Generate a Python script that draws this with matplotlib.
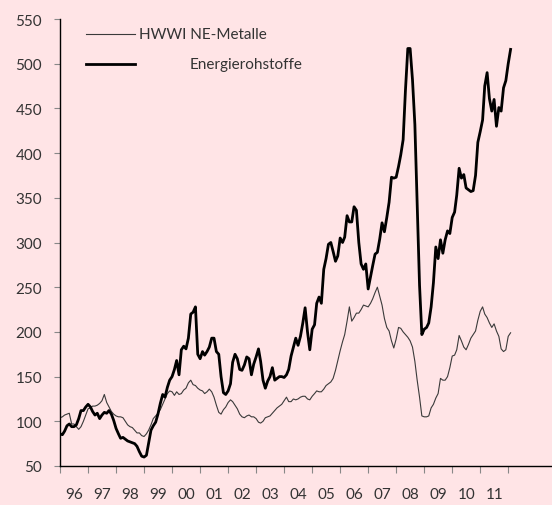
import matplotlib
matplotlib.use("Agg")
import matplotlib.pyplot as plt
import matplotlib.dates as mdates
from matplotlib.ticker import FixedLocator
import pandas as pd
import datetime as dt

plt.rcParams['font.family'] = ['Lato', 'DejaVu Sans']

# Monthly index values, Jan 1996 - Feb 2012
energie = [86, 85, 89, 95, 97, 94, 94, 96, 103, 112, 112, 116,
           119, 116, 111, 107, 109, 103, 107, 110, 109, 112, 108, 101,
           92, 86, 81, 82, 80, 78, 77, 76, 75, 72, 66, 61,
           60, 62, 75, 90, 95, 99, 108, 120, 130, 127, 138, 146,
           150, 158, 168, 152, 180, 184, 181, 193, 220, 222, 228, 175,
           170, 178, 174, 178, 183, 193, 193, 178, 175, 150, 132, 130,
           134, 142, 166, 175, 170, 158, 157, 163, 172, 170, 152, 164,
           172, 181, 167, 146, 137, 145, 150, 160, 146, 148, 150, 150,
           149, 152, 158, 173, 183, 193, 185, 195, 210, 227, 200, 180,
           203, 208, 232, 239, 232, 270, 282, 298, 300, 290, 279, 285,
           305, 300, 306, 330, 323, 323, 340, 336, 300, 276, 270, 276,
           248, 262, 274, 287, 289, 304, 322, 312, 328, 345, 373, 372,
           373, 385, 398, 415, 470, 517, 517, 482, 432, 342, 252, 197,
           203, 205, 210, 228, 255, 295, 282, 303, 288, 303, 313, 310,
           328, 334, 353, 383, 372, 376, 361, 359, 357, 358, 375, 412,
           424, 437, 475, 490, 461, 447, 460, 430, 451, 447, 473, 481,
           500, 516]

metalle = [104, 105, 107, 108, 109, 97, 97, 94, 91, 94, 100, 107,
           114, 115, 117, 117, 118, 120, 123, 130, 121, 116, 111, 108,
           106, 105, 105, 104, 100, 96, 94, 93, 90, 87, 87, 84,
           83, 86, 90, 96, 103, 106, 109, 113, 119, 125, 131, 134,
           133, 129, 133, 130, 131, 135, 137, 143, 146, 141, 140, 137,
           135, 134, 131, 133, 136, 133, 127, 118, 110, 108, 113, 116,
           121, 124, 122, 118, 114, 108, 105, 104, 106, 107, 105, 105,
           103, 99, 98, 100, 104, 105, 106, 109, 112, 115, 117, 119,
           123, 127, 122, 122, 125, 124, 125, 127, 128, 128, 125, 124,
           128, 131, 134, 133, 133, 136, 140, 142, 144, 148, 157, 168,
           179, 189, 197, 212, 228, 212, 216, 221, 221, 225, 230, 229,
           228, 232, 237, 244, 250, 240, 230, 215, 205, 201, 190, 182,
           192, 205, 204, 200, 197, 194, 190, 183, 167, 146, 127, 106,
           105, 105, 106, 115, 119, 126, 131, 148, 146, 146, 150, 160,
           173, 174, 180, 196, 190, 183, 180, 186, 193, 197, 201, 213,
           223, 228, 220, 216, 210, 205, 209, 201, 195, 181, 178, 180,
           195, 199]

start_month = "1996-01-01"
years = list(range(1996, 2012))
y_ticks = [50, 100, 150, 200, 250, 300, 350, 400, 450, 500, 550]
label_metalle = "HWWI NE-Metalle"
label_energie = "Energierohstoffe"

dates = pd.date_range(start_month, periods=len(energie), freq="MS")

bg = "#FFE4E6"
fig = plt.figure(figsize=(5.52, 5.06), dpi=100, facecolor=bg)
ax = fig.add_axes([60/552, 1 - 467/506, 492/552, 447/506], facecolor=bg)

ax.plot(dates, metalle, color="#3a3a3a", lw=0.8)
ax.plot(dates, energie, color="black", lw=2.0)

ax.set_ylim(50, 550)
ax.set_yticks(y_ticks)
ax.set_xlim(dt.date(1996, 1, 1), dt.date(2013, 7, 25))

major = [mdates.date2num(dt.date(y, 1, 1)) for y in years + [years[-1] + 1]]
minor = [mdates.date2num(dt.date(y, 7, 2)) for y in years]
ax.xaxis.set_major_locator(FixedLocator(major))
ax.xaxis.set_major_formatter(plt.NullFormatter())
ax.xaxis.set_minor_locator(FixedLocator(minor))
ax.xaxis.set_minor_formatter(mdates.DateFormatter("%y"))

ax.tick_params(axis="x", which="major", length=5, width=0.8, color="#888888", direction="out")
ax.tick_params(axis="x", which="minor", length=0, pad=15, labelsize=11, labelcolor="#333333")
ax.tick_params(axis="y", length=4, width=0.8, color="#888888", direction="out", pad=9,
               labelsize=11, labelcolor="#333333")

for s in ["top", "right"]:
    ax.spines[s].set_visible(False)
for s in ["left", "bottom"]:
    ax.spines[s].set_color("black")
    ax.spines[s].set_linewidth(1.0)

# legend drawn manually
tr = ax.transAxes
ax.plot([0.053, 0.152], [0.966, 0.966], color="#3a3a3a", lw=0.8, transform=tr, clip_on=False)
ax.text(0.161, 0.966, label_metalle, transform=tr, va="center", ha="left", fontsize=11, color="#333333")
ax.plot([0.053, 0.152], [0.899, 0.899], color="black", lw=2.0, transform=tr, clip_on=False)
ax.text(0.264, 0.899, label_energie, transform=tr, va="center", ha="left", fontsize=11, color="#333333")

fig.savefig("out.png", dpi=100, facecolor=bg)
